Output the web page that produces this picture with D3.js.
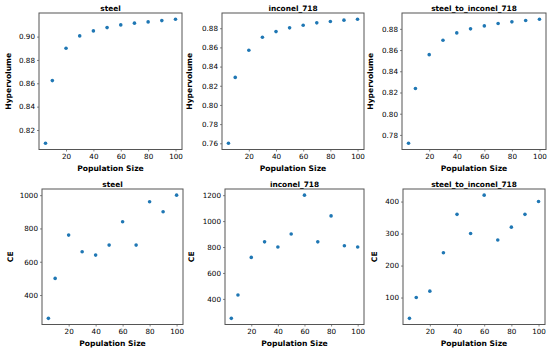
<!DOCTYPE html>
<html>
<head>
<meta charset="utf-8">
<script src="https://cdn.jsdelivr.net/npm/d3@7"></script>
<style>
  body { margin: 0; background: #fff; }
  text { font-family: "DejaVu Sans", sans-serif; fill: #000; }
  .tick-label { font-size: 7.2px; }
  .title, .axis-label { font-weight: bold; }
  .title { font-size: 7.4px; }
  .axis-label { font-size: 7.6px; }
</style>
</head>
<body>
<div id="chart"></div>
<script>
// population sizes shared by every panel
var popSizes = [5, 10, 20, 30, 40, 50, 60, 70, 80, 90, 100];
var xTicks = [20, 40, 60, 80, 100];

// hypervolume per material
var hvSteel = [0.8086, 0.8623, 0.8900, 0.9006, 0.9049, 0.9077, 0.9100, 0.9115, 0.9126, 0.9137, 0.9149];
var hvInconel = [0.7600, 0.8287, 0.8570, 0.8706, 0.8765, 0.8804, 0.8831, 0.8856, 0.8870, 0.8884, 0.8894];
var hvSteelToInconel = [0.7721, 0.8238, 0.8557, 0.8692, 0.8762, 0.8800, 0.8828, 0.8850, 0.8866, 0.8879, 0.8891];

// CE per material
var ceSteel = [260, 500, 760, 660, 640, 700, 840, 700, 960, 900, 1000];
var ceInconel = [250, 430, 720, 840, 800, 900, 1200, 840, 1040, 810, 800];
var ceSteelToInconel = [35, 100, 120, 240, 360, 300, 420, 280, 320, 360, 400];

// y tick labels per panel
var hvSteelTicks = [0.82, 0.84, 0.86, 0.88, 0.90];
var hvInconelTicks = [0.76, 0.78, 0.80, 0.82, 0.84, 0.86, 0.88];
var hvSteelToInconelTicks = [0.78, 0.80, 0.82, 0.84, 0.86, 0.88];
var ceSteelTicks = [400, 600, 800, 1000];
var ceInconelTicks = [400, 600, 800, 1000, 1200];
var ceSteelToInconelTicks = [100, 200, 300, 400];

var titles = ["steel", "inconel_718", "steel_to_inconel_718"];

var svg = d3.select("#chart")
  .append("svg")
  .attr("width", 550)
  .attr("height", 350);

// frame boxes [left, top, right, bottom] for each subplot
var panels = [
  { box: [39, 13, 182, 149.5], values: hvSteel, ticks: hvSteelTicks, title: titles[0], ylabel: "Hypervolume", fmt: ".2f", labelX: -28 },
  { box: [222, 13, 364, 149.5], values: hvInconel, ticks: hvInconelTicks, title: titles[1], ylabel: "Hypervolume", fmt: ".2f", labelX: -30 },
  { box: [402, 13, 546, 149.5], values: hvSteelToInconel, ticks: hvSteelToInconelTicks, title: titles[2], ylabel: "Hypervolume", fmt: ".2f", labelX: -29 },
  { box: [42, 189, 183, 324.5], values: ceSteel, ticks: ceSteelTicks, title: titles[0], ylabel: "CE", fmt: "d", labelX: -29.5 },
  { box: [225, 189, 364, 324.5], values: ceInconel, ticks: ceInconelTicks, title: titles[1], ylabel: "CE", fmt: "d", labelX: -31 },
  { box: [403, 189, 545, 324.5], values: ceSteelToInconel, ticks: ceSteelToInconelTicks, title: titles[2], ylabel: "CE", fmt: "d", labelX: -26.5 }
];

// matplotlib style 5% margin around the data
function padded(ext) {
  var p = (ext[1] - ext[0]) * 0.05;
  return [ext[0] - p, ext[1] + p];
}

panels.forEach(function(p) {
  var left = p.box[0], top = p.box[1], right = p.box[2], bottom = p.box[3];
  var w = right - left, h = bottom - top;

  var g = svg.append("g")
    .attr("transform", `translate(${left}, ${top})`);

  var x = d3.scaleLinear()
    .domain(padded(d3.extent(popSizes)))
    .range([0, w]);

  var y = d3.scaleLinear()
    .domain(padded(d3.extent(p.values)))
    .range([h, 0]);

  var xAxis = g.append("g")
    .attr("transform", `translate(0, ${h})`)
    .call(d3.axisBottom(x).tickValues(xTicks).tickSize(2).tickPadding(2).tickFormat(d3.format("d")));

  var yAxis = g.append("g")
    .call(d3.axisLeft(y).tickValues(p.ticks).tickSize(2).tickPadding(2).tickFormat(d3.format(p.fmt)));

  [xAxis, yAxis].forEach(function(a) {
    a.select(".domain").remove();
    a.selectAll("line").attr("stroke", "#333").attr("stroke-width", 0.6);
    a.selectAll("text")
      .attr("class", "tick-label")
      .attr("font-family", null)
      .attr("font-size", null);
  });

  // frame
  g.append("rect")
    .attr("width", w)
    .attr("height", h)
    .attr("fill", "none")
    .attr("stroke", "#555")
    .attr("stroke-width", 1);

  g.selectAll("circle")
    .data(popSizes)
    .enter()
    .append("circle")
    .attr("cx", d => x(d))
    .attr("cy", (d, i) => y(p.values[i]))
    .attr("r", 1.8)
    .attr("fill", "#1f77b4");

  g.append("text")
    .attr("class", "title")
    .attr("x", w / 2)
    .attr("y", -2.3)
    .attr("text-anchor", "middle")
    .text(p.title);

  g.append("text")
    .attr("class", "axis-label")
    .attr("x", w / 2)
    .attr("y", h + 21)
    .attr("text-anchor", "middle")
    .text("Population Size");

  g.append("text")
    .attr("class", "axis-label")
    .attr("transform", `translate(${p.labelX}, ${h / 2}) rotate(-90)`)
    .attr("text-anchor", "middle")
    .text(p.ylabel);
});
</script>
</body>
</html>
